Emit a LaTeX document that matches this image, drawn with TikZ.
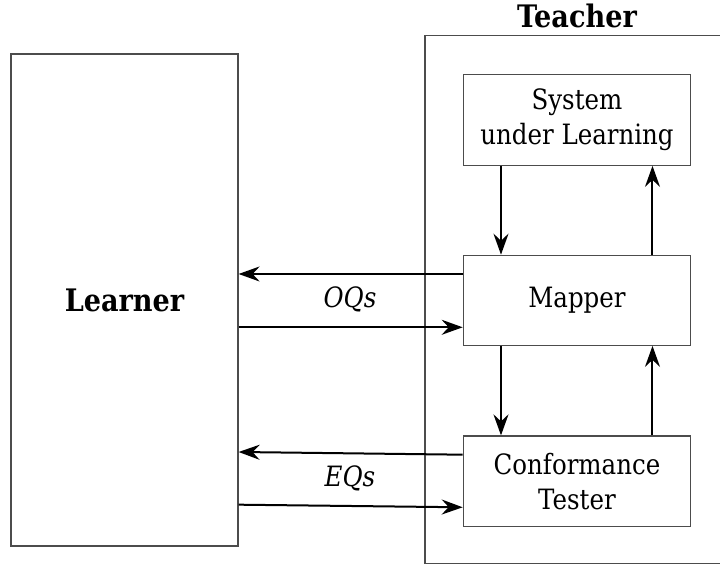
\documentclass[tikz,border=0pt]{standalone}
\usepackage{fontspec}
\setmainfont[FakeStretch=0.875]{DejaVu Serif}
\usetikzlibrary{arrows.meta}
\begin{document}
\begin{tikzpicture}[x=0.5pt,y=-0.5pt,
  txt/.style={font=\fontsize{14}{17.5}\selectfont},
  box/.style={draw=black!70,line width=0.6pt,inner sep=0pt,align=center,txt},
  heading/.style={font=\fontsize{15.5}{19}\selectfont\bfseries},
  arr/.style={line width=1pt,-{Stealth[length=10.5pt,width=7.5pt,inset=3.5pt]}},
  lbl/.style={font=\fontsize{14}{17}\selectfont\itshape}]
\useasboundingbox (0,0) rectangle (720,565);

% teacher frame (runs past the right edge)
\node[box,minimum width=157.5pt,minimum height=263.9pt] (teacher) at (582.5,299.6) {};
\node[heading] (tlabel) at (577,16) {Teacher};

% learner
\node[box,minimum width=113.5pt,minimum height=246pt,heading]
  (learner) at (124.5,300) {Learner};

% teacher components
\node[box,minimum width=113.7pt,minimum height=45.3pt] (sul) at (577,120) {System\\under Learning};
\node[box,minimum width=113.7pt,minimum height=45pt] (mapper) at (577,300.3) {Mapper};
\node[box,minimum width=113.7pt,minimum height=45.3pt] (ct) at (577,481.3) {Conformance\\Tester};

% connector columns and rows
\coordinate (cl) at (501,0);
\coordinate (cr) at (652.5,0);
\coordinate (oqout) at (0,274);
\coordinate (oqin) at (0,327.3);
\coordinate (eqoutR) at (0,454.7);
\coordinate (eqoutL) at (0,452);
\coordinate (eqinL) at (0,504.7);
\coordinate (eqinR) at (0,507.3);

\draw[arr] (sul.south -| cl) -- (mapper.north -| cl);
\draw[arr] (mapper.north -| cr) -- (sul.south -| cr);
\draw[arr] (mapper.south -| cl) -- (ct.north -| cl);
\draw[arr] (ct.north -| cr) -- (mapper.south -| cr);

\draw[arr] (mapper.west |- oqout) -- (learner.east |- oqout);
\draw[arr] (learner.east |- oqin) -- (mapper.west |- oqin);
\draw[arr] (ct.west |- eqoutR) -- (learner.east |- eqoutL);
\draw[arr] (learner.east |- eqinL) -- (ct.west |- eqinR);

\node[lbl] (oqs) at (350,299) {OQs};
\node[lbl] (eqs) at (350,478) {EQs};
\end{tikzpicture}
\end{document}
